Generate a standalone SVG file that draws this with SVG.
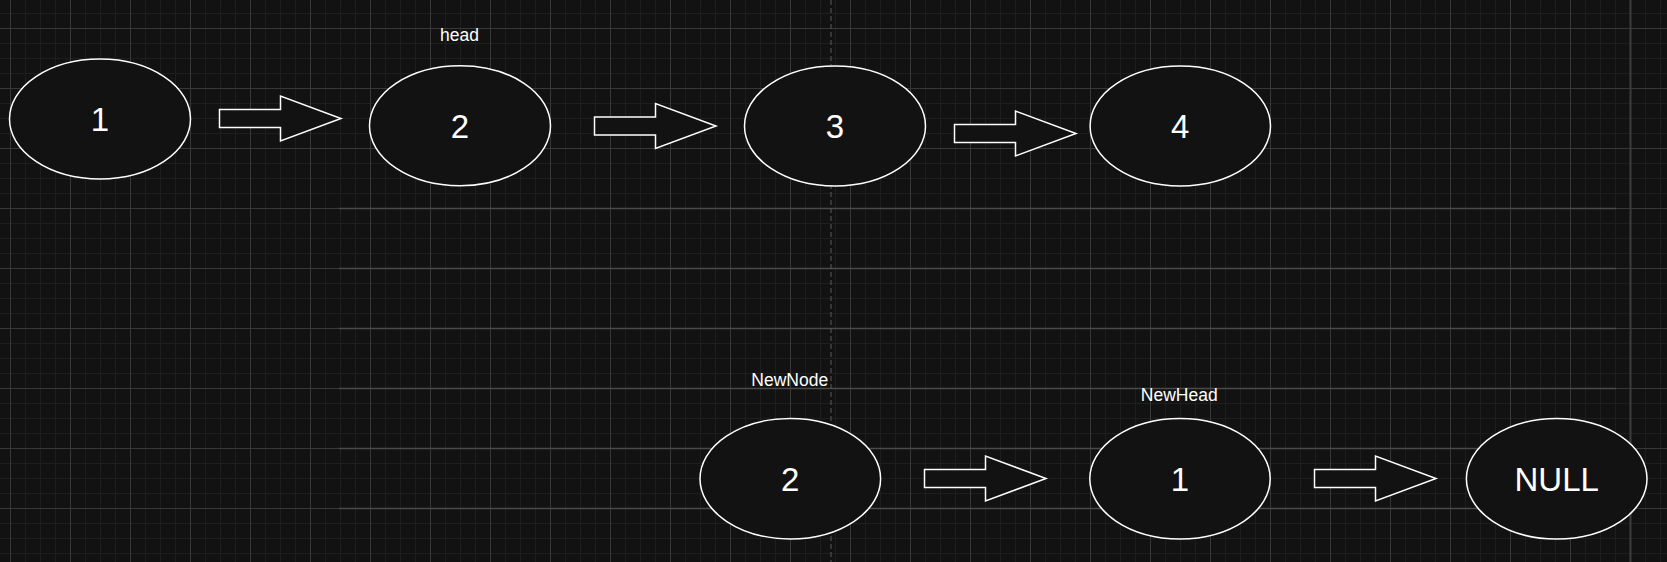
<svg xmlns="http://www.w3.org/2000/svg" width="1667" height="562" viewBox="0 0 1667 562">
  <style>
    .node ellipse { fill: #121212; stroke: #ffffff; stroke-width: 1.5; }
    .val { fill: #ffffff; font-family: "Liberation Sans", Arial, sans-serif; font-size: 33px; text-anchor: middle; }
    .lbl { fill: #ffffff; font-family: "Liberation Sans", Arial, sans-serif; font-size: 17.5px; text-anchor: middle; }
    .arrow { fill: #121212; stroke: #ffffff; stroke-width: 1.5; stroke-linejoin: miter; }
    .hl { stroke: #4a4a4a; stroke-width: 1.5; }
  </style>
  <defs>
    <pattern id="minor" patternUnits="userSpaceOnUse" x="10" y="28" width="15" height="15">
      <path d="M0.5 0 V15 M0 0.5 H15" stroke="#1e1e1e" stroke-width="1" fill="none"/>
    </pattern>
    <pattern id="major" patternUnits="userSpaceOnUse" x="10" y="28" width="60" height="60">
      <path d="M0.5 0 V60 M0 0.5 H60" stroke="#383838" stroke-width="1" fill="none"/>
    </pattern>
    <polygon id="blockArrow" points="0,-9 61,-9 61,-22.5 121.5,0 61,22.5 61,9 0,9"/>
  </defs>

  <g id="background">
    <rect x="0" y="0" width="1667" height="562" fill="#121212"/>
    <rect x="0" y="0" width="1667" height="562" fill="url(#minor)"/>
    <rect x="0" y="0" width="1667" height="562" fill="url(#major)"/>
    <path class="hl" d="M339 208.5 H1616 M339 268.5 H1616 M339 328.5 H1616 M339 388.5 H1616 M339 448.5 H1616 M339 508.5 H1616"/>
    <path d="M1630.5 0 V562" stroke="#3c3c3c" stroke-width="2"/>
    <path d="M831 0 V562" stroke="#5a5a5a" stroke-width="1" stroke-dasharray="5 3"/>
  </g>

  <g id="connectors">
    <use href="#blockArrow" class="arrow" x="219.5" y="118.5"/>
    <use href="#blockArrow" class="arrow" x="594.5" y="126"/>
    <use href="#blockArrow" class="arrow" x="954.5" y="133.5"/>
    <use href="#blockArrow" class="arrow" x="924.5" y="478.5"/>
    <use href="#blockArrow" class="arrow" x="1314.5" y="478.5"/>
  </g>

  <g id="node-1" class="node">
    <ellipse cx="100" cy="119" rx="90.5" ry="60"/>
    <text class="val" x="100" y="130.8">1</text>
  </g>
  <g id="node-2" class="node">
    <ellipse cx="460" cy="125.7" rx="90.5" ry="60"/>
    <text class="val" x="460" y="137.5">2</text>
  </g>
  <g id="node-3" class="node">
    <ellipse cx="835" cy="126" rx="90.5" ry="60"/>
    <text class="val" x="835" y="137.8">3</text>
  </g>
  <g id="node-4" class="node">
    <ellipse cx="1180.3" cy="126" rx="90.2" ry="60"/>
    <text class="val" x="1180.3" y="137.8">4</text>
  </g>
  <g id="label-head">
    <text class="lbl" x="459.5" y="40.7">head</text>
  </g>

  <g id="node-newnode" class="node">
    <ellipse cx="790.3" cy="478.7" rx="90.3" ry="60.2"/>
    <text class="val" x="790.3" y="490.5">2</text>
  </g>
  <g id="label-newnode">
    <text class="lbl" x="789.7" y="386">NewNode</text>
  </g>
  <g id="node-newhead" class="node">
    <ellipse cx="1180" cy="478.7" rx="90.2" ry="60.2"/>
    <text class="val" x="1180" y="490.5">1</text>
  </g>
  <g id="label-newhead">
    <text class="lbl" x="1179.3" y="400.7">NewHead</text>
  </g>
  <g id="node-null" class="node">
    <ellipse cx="1556.7" cy="478.8" rx="90.3" ry="60.2"/>
    <text class="val" x="1556.7" y="490.6">NULL</text>
  </g>
</svg>
